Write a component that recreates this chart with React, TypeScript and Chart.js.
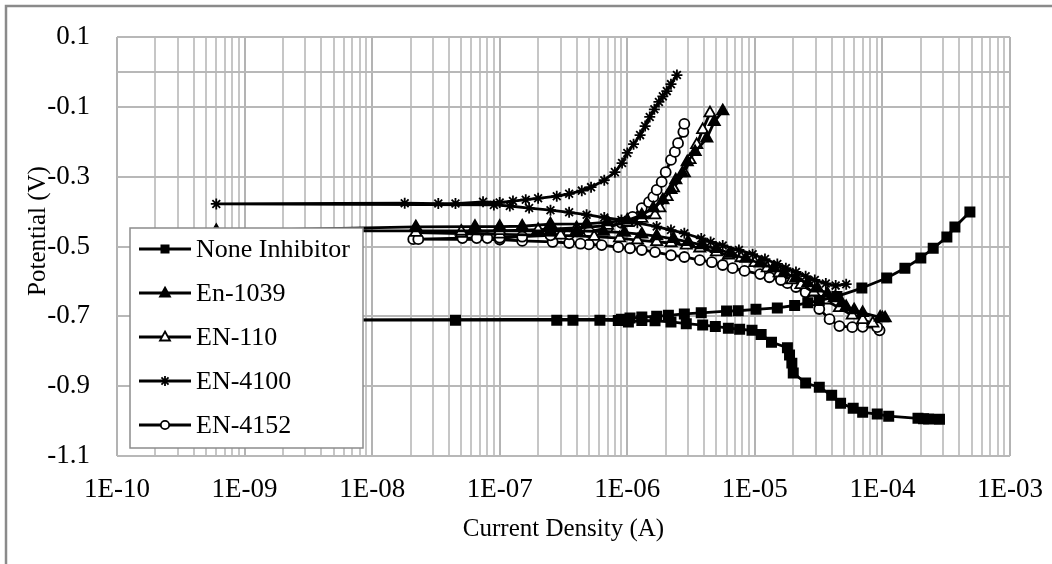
import React, { useEffect, useRef } from 'react';
import { Chart, registerables } from 'chart.js';

Chart.register(...registerables);

const FONT = "'Liberation Serif', 'Times New Roman', serif";

const seriesNames = ['None Inhibitor', 'En-1039', 'EN-110', 'EN-4100', 'EN-4152'];
const xAxisTitle = 'Current Density (A)';
const yAxisTitle = 'Potential (V)';
const xTickLabels = ['1E-10', '1E-09', '1E-08', '1E-07', '1E-06', '1E-05', '1E-04', '1E-03'];
const yTickValues = [0.1, 0, -0.1, -0.3, -0.5, -0.7, -0.9, -1.1];

// None Inhibitor
const noneCurrent = [
  2.8e-4, 2.3e-4, 2.1e-4, 1.9e-4, 1.12e-4, 9.1e-5, 7.0e-5, 5.9e-5, 4.7e-5, 4.0e-5, 3.2e-5, 2.5e-5, 2.0e-5,
  1.95e-5, 1.87e-5, 1.8e-5, 1.35e-5, 1.12e-5, 9.5e-6, 7.6e-6, 6.2e-6, 4.9e-6, 3.9e-6, 2.9e-6, 2.2e-6, 1.65e-6,
  1.3e-6, 1.02e-6, 8.5e-7, 6.1e-7, 3.75e-7, 2.8e-7, 4.5e-8, 5e-10,
  9.0e-7, 1.05e-6, 1.3e-6, 1.7e-6, 2.1e-6, 2.8e-6, 3.8e-6, 6.0e-6, 7.4e-6, 1.02e-5, 1.5e-5, 2.05e-5, 2.6e-5,
  3.2e-5, 4.4e-5, 6.9e-5, 1.08e-4, 1.5e-4, 2.0e-4, 2.5e-4, 3.2e-4, 3.7e-4, 4.85e-4,
];
const nonePotential = [
  -0.995, -0.994, -0.993, -0.992, -0.986, -0.980, -0.975, -0.963, -0.949, -0.926, -0.903, -0.891, -0.862,
  -0.834, -0.811, -0.790, -0.774, -0.752, -0.740, -0.737, -0.734, -0.729, -0.725, -0.721, -0.716, -0.713,
  -0.712, -0.716, -0.712, -0.711, -0.711, -0.711, -0.711, -0.711,
  -0.708, -0.705, -0.702, -0.700, -0.697, -0.693, -0.690, -0.685, -0.684, -0.680, -0.676, -0.669, -0.661,
  -0.655, -0.643, -0.619, -0.590, -0.562, -0.533, -0.505, -0.473, -0.444, -0.401,
];

// En-1039
const en1039Current = [
  1.05e-4, 9.6e-5, 7.0e-5, 6.0e-5, 5.2e-5, 4.8e-5, 4.2e-5, 3.7e-5, 3.1e-5, 2.6e-5, 2.1e-5, 1.7e-5, 1.4e-5,
  1.1e-5, 8.5e-6, 6.5e-6, 5.0e-6, 3.9e-6, 3.0e-6, 2.3e-6, 1.7e-6, 1.3e-6, 9.5e-7, 6.5e-7, 4.0e-7, 2.5e-7, 6e-10,
  2.2e-8, 6.4e-8, 1.0e-7, 1.5e-7, 2.5e-7, 4.8e-7, 7.0e-7, 1.0e-6, 1.3e-6, 1.6e-6, 1.9e-6, 2.2e-6, 2.4e-6,
  2.7e-6, 2.95e-6, 3.4e-6, 4.2e-6, 4.8e-6, 5.6e-6,
];
const en1039Potential = [
  -0.705, -0.703, -0.690, -0.682, -0.673, -0.662, -0.648, -0.635, -0.620, -0.605, -0.590, -0.575, -0.562,
  -0.548, -0.535, -0.520, -0.507, -0.496, -0.487, -0.478, -0.470, -0.465, -0.460, -0.457, -0.455, -0.455, -0.455,
  -0.444, -0.443, -0.443, -0.442, -0.436, -0.435, -0.430, -0.425, -0.410, -0.390, -0.367, -0.338, -0.310,
  -0.290, -0.258, -0.229, -0.190, -0.143, -0.112,
];

// EN-110
const en110Current = [
  1.0e-4, 8.4e-5, 7.0e-5, 5.8e-5, 4.6e-5, 3.6e-5, 2.9e-5, 2.3e-5, 1.95e-5, 1.55e-5, 1.25e-5, 1.0e-5, 7.8e-6,
  6.2e-6, 5.0e-6, 3.7e-6, 2.9e-6, 2.2e-6, 1.7e-6, 1.2e-6, 8.7e-7, 5.5e-7, 3.0e-7, 1.0e-7, 5.0e-8, 2.2e-8,
  5.0e-8, 1.0e-7, 2.0e-7, 4.0e-7, 7.0e-7, 1.0e-6, 1.3e-6, 1.65e-6, 1.8e-6, 2.05e-6, 2.3e-6, 2.8e-6, 3.1e-6,
  3.5e-6, 3.9e-6, 4.45e-6,
];
const en110Potential = [
  -0.705, -0.720, -0.710, -0.697, -0.676, -0.654, -0.631, -0.610, -0.596, -0.576, -0.562, -0.547, -0.533,
  -0.525, -0.516, -0.505, -0.497, -0.490, -0.487, -0.482, -0.476, -0.472, -0.468, -0.465, -0.463, -0.460,
  -0.457, -0.455, -0.452, -0.447, -0.440, -0.432, -0.420, -0.410, -0.390, -0.358, -0.333, -0.290, -0.252,
  -0.209, -0.166, -0.118,
];

// EN-4100
const en4100Current = [
  5.2e-5, 4.3e-5, 3.6e-5, 2.95e-5, 2.5e-5, 2.1e-5, 1.75e-5, 1.5e-5, 1.2e-5, 9.6e-6, 7.5e-6, 5.6e-6, 4.5e-6,
  3.8e-6, 2.8e-6, 2.2e-6, 1.7e-6, 1.2e-6, 9.0e-7, 6.6e-7, 4.8e-7, 3.5e-7, 2.5e-7, 1.7e-7, 1.2e-7, 9.0e-8, 6e-10,
  1.8e-8, 3.3e-8, 4.5e-8, 7.4e-8, 1.0e-7, 1.27e-7, 1.6e-7, 2.0e-7, 2.8e-7, 3.5e-7, 4.4e-7, 5.2e-7, 6.6e-7,
  8.0e-7, 9.1e-7, 1.0e-6, 1.12e-6, 1.26e-6, 1.38e-6, 1.5e-6, 1.63e-6, 1.77e-6, 1.9e-6, 2.04e-6, 2.2e-6, 2.45e-6,
];
const en4100Potential = [
  -0.608, -0.612, -0.606, -0.596, -0.585, -0.573, -0.562, -0.550, -0.536, -0.522, -0.510, -0.497, -0.487,
  -0.477, -0.462, -0.453, -0.443, -0.432, -0.424, -0.417, -0.409, -0.402, -0.396, -0.390, -0.384, -0.381, -0.378,
  -0.376, -0.377, -0.377, -0.372, -0.374, -0.370, -0.366, -0.362, -0.356, -0.349, -0.340, -0.330, -0.310,
  -0.287, -0.261, -0.232, -0.207, -0.181, -0.155, -0.129, -0.107, -0.086, -0.070, -0.055, -0.035, -0.009,
];

// EN-4152
const en4152Current = [
  9.5e-5, 9.1e-5, 7.0e-5, 5.8e-5, 4.6e-5, 3.85e-5, 3.2e-5, 2.8e-5, 2.5e-5, 2.1e-5, 1.8e-5, 1.6e-5, 1.3e-5,
  1.1e-5, 8.3e-6, 6.7e-6, 5.6e-6, 4.6e-6, 3.7e-6, 2.8e-6, 2.2e-6, 1.65e-6, 1.3e-6, 1.05e-6, 8.5e-7, 6.3e-7,
  5.0e-7, 4.3e-7, 3.5e-7, 2.6e-7, 1.5e-7, 1.0e-7, 2.1e-8,
  2.3e-8, 5.1e-8, 6.6e-8, 8.0e-8, 1.0e-7, 1.5e-7, 2.5e-7, 3.5e-7, 5.0e-7, 7.0e-7, 9.0e-7, 1.1e-6, 1.3e-6,
  1.48e-6, 1.6e-6, 1.7e-6, 1.86e-6, 2.0e-6, 2.2e-6, 2.36e-6, 2.5e-6, 2.75e-6, 2.8e-6,
];
const en4152Potential = [
  -0.740, -0.731, -0.730, -0.731, -0.728, -0.708, -0.679, -0.655, -0.631, -0.616, -0.605, -0.596, -0.588,
  -0.579, -0.570, -0.562, -0.553, -0.545, -0.539, -0.530, -0.525, -0.516, -0.510, -0.505, -0.502, -0.496,
  -0.494, -0.492, -0.490, -0.487, -0.484, -0.480, -0.479,
  -0.479, -0.476, -0.476, -0.476, -0.475, -0.472, -0.468, -0.465, -0.458, -0.447, -0.432, -0.415, -0.390,
  -0.373, -0.358, -0.338, -0.315, -0.287, -0.252, -0.229, -0.204, -0.172, -0.149,
];

const seriesCurrents = [noneCurrent, en1039Current, en110Current, en4100Current, en4152Current];
const seriesPotentials = [nonePotential, en1039Potential, en110Potential, en4100Potential, en4152Potential];
const pointStyles = ['rect', 'triangle', 'triangle', 'star', 'circle'];
const pointFills = ['#000', '#000', '#fff', '#000', '#fff'];
const pointRadii = [6.5, 6.5, 6.5, 5.5, 5];

const isPow10 = (v: number) => {
  const l = Math.log10(v);
  return Math.abs(l - Math.round(l)) < 1e-6;
};

function drawMarker(ctx: CanvasRenderingContext2D, kind: number, cx: number, cy: number) {
  ctx.save();
  ctx.strokeStyle = '#000';
  ctx.fillStyle = pointFills[kind];
  ctx.lineWidth = 1.8;
  if (kind === 0) {
    ctx.fillRect(cx - 4.5, cy - 4.5, 9, 9);
  } else if (kind === 1 || kind === 2) {
    ctx.beginPath();
    ctx.moveTo(cx, cy - 5.5);
    ctx.lineTo(cx + 5, cy + 3.5);
    ctx.lineTo(cx - 5, cy + 3.5);
    ctx.closePath();
    ctx.fill();
    ctx.stroke();
  } else if (kind === 3) {
    ctx.beginPath();
    const r = 5;
    for (let i = 0; i < 4; i++) {
      const a = (i * Math.PI) / 4;
      ctx.moveTo(cx - r * Math.cos(a), cy - r * Math.sin(a));
      ctx.lineTo(cx + r * Math.cos(a), cy + r * Math.sin(a));
    }
    ctx.stroke();
  } else {
    ctx.beginPath();
    ctx.arc(cx, cy, 4.2, 0, Math.PI * 2);
    ctx.fill();
    ctx.stroke();
  }
  ctx.restore();
}

const decorPlugin = {
  id: 'decor',
  beforeDraw(chart: any) {
    const ctx = chart.ctx as CanvasRenderingContext2D;
    ctx.save();
    ctx.fillStyle = '#fff';
    ctx.fillRect(0, 0, chart.width, chart.height);
    ctx.strokeStyle = '#8a8a8a';
    ctx.lineWidth = 2.5;
    ctx.beginPath();
    ctx.moveTo(6, chart.height);
    ctx.lineTo(6, 6);
    ctx.lineTo(chart.width, 6);
    ctx.stroke();
    ctx.restore();
  },
  afterDraw(chart: any) {
    const ctx = chart.ctx as CanvasRenderingContext2D;
    const area = chart.chartArea;
    ctx.save();
    ctx.fillStyle = '#000';
    ctx.font = `25px ${FONT}`;
    ctx.textAlign = 'center';
    ctx.textBaseline = 'middle';
    ctx.fillText(xAxisTitle, (area.left + area.right) / 2, 529);
    ctx.save();
    ctx.translate(38, 231);
    ctx.rotate(-Math.PI / 2);
    ctx.fillText(yAxisTitle, 0, 0);
    ctx.restore();

    const bx = 130, by = 228, bw = 233, bh = 220;
    ctx.fillStyle = '#fff';
    ctx.fillRect(bx, by, bw, bh);
    ctx.strokeStyle = '#8c8c8c';
    ctx.lineWidth = 1.5;
    ctx.strokeRect(bx, by, bw, bh);
    ctx.font = `26px ${FONT}`;
    ctx.textAlign = 'left';
    ctx.textBaseline = 'middle';
    seriesNames.forEach((name, i) => {
      const cy = 249 + i * 44;
      ctx.strokeStyle = '#000';
      ctx.lineWidth = 2.8;
      ctx.beginPath();
      ctx.moveTo(139, cy);
      ctx.lineTo(191, cy);
      ctx.stroke();
      drawMarker(ctx, i, 165, cy);
      ctx.fillStyle = '#000';
      ctx.fillText(name, 196, cy + 1);
    });
    ctx.restore();
  },
};

export default function App() {
  const ref = useRef<HTMLCanvasElement | null>(null);
  useEffect(() => {
    document.body.style.margin = '0';
    const canvas = ref.current;
    if (!canvas) return;
    const datasets = seriesNames.map((name, i) => ({
      label: name,
      data: seriesCurrents[i].map((c, k) => ({ x: c, y: seriesPotentials[i][k] })),
      borderColor: '#000',
      borderWidth: 2.8,
      borderJoinStyle: 'round' as const,
      pointStyle: pointStyles[i] as any,
      pointRadius: pointRadii[i],
      pointBackgroundColor: pointFills[i],
      pointBorderColor: '#000',
      pointBorderWidth: 1.8,
      tension: 0,
      fill: false,
    }));
    const chart = new Chart(canvas, {
      type: 'line',
      data: { datasets },
      plugins: [decorPlugin],
      options: {
        animation: false,
        responsive: false,
        devicePixelRatio: 1,
        layout: { padding: { top: 37, right: 42, left: 0, bottom: 0 } },
        plugins: { legend: { display: false }, tooltip: { enabled: false } },
        scales: {
          x: {
            type: 'logarithmic',
            min: 1e-10,
            max: 1e-3,
            afterBuildTicks: (scale: any) => {
              const t: any[] = [];
              for (let e = -10; e < -3; e++) {
                for (let m = 1; m <= 9; m++) t.push({ value: m * Math.pow(10, e) });
              }
              t.push({ value: 1e-3 });
              scale.ticks = t;
            },
            afterFit: (scale: any) => {
              scale.height = 108;
            },
            ticks: {
              autoSkip: false,
              maxRotation: 0,
              minRotation: 0,
              padding: 0,
              color: '#000',
              font: { family: FONT, size: 27 },
              callback: (v: any) => {
                const n = Number(v);
                if (!isPow10(n)) return '';
                const e = Math.round(Math.log10(n));
                return xTickLabels[e + 10];
              },
            },
            grid: {
              drawTicks: true,
              tickLength: 18,
              tickColor: 'rgba(0,0,0,0)',
              lineWidth: 2,
              color: (c: any) => (c.tick && isPow10(c.tick.value) ? '#b3b3b3' : '#c6c6c6'),
            },
            border: { display: false },
          },
          y: {
            type: 'linear',
            min: -1.1,
            max: 0.1,
            afterBuildTicks: (scale: any) => {
              scale.ticks = yTickValues.slice().sort((a, b) => a - b).map((v) => ({ value: v }));
            },
            afterFit: (scale: any) => {
              scale.width = 117;
            },
            ticks: {
              padding: 0,
              color: '#000',
              font: { family: FONT, size: 27 },
              callback: (v: any) => {
                const n = Number(v);
                if (Math.abs(n) < 1e-9) return '';
                return n.toFixed(1);
              },
            },
            grid: {
              drawTicks: true,
              tickLength: 27,
              tickColor: 'rgba(0,0,0,0)',
              lineWidth: 2,
              color: '#b8b8b8',
            },
            border: { display: false },
          },
        },
      },
    });
    return () => chart.destroy();
  }, []);
  return <canvas ref={ref} width={1052} height={564} style={{ display: 'block' }} />;
}
